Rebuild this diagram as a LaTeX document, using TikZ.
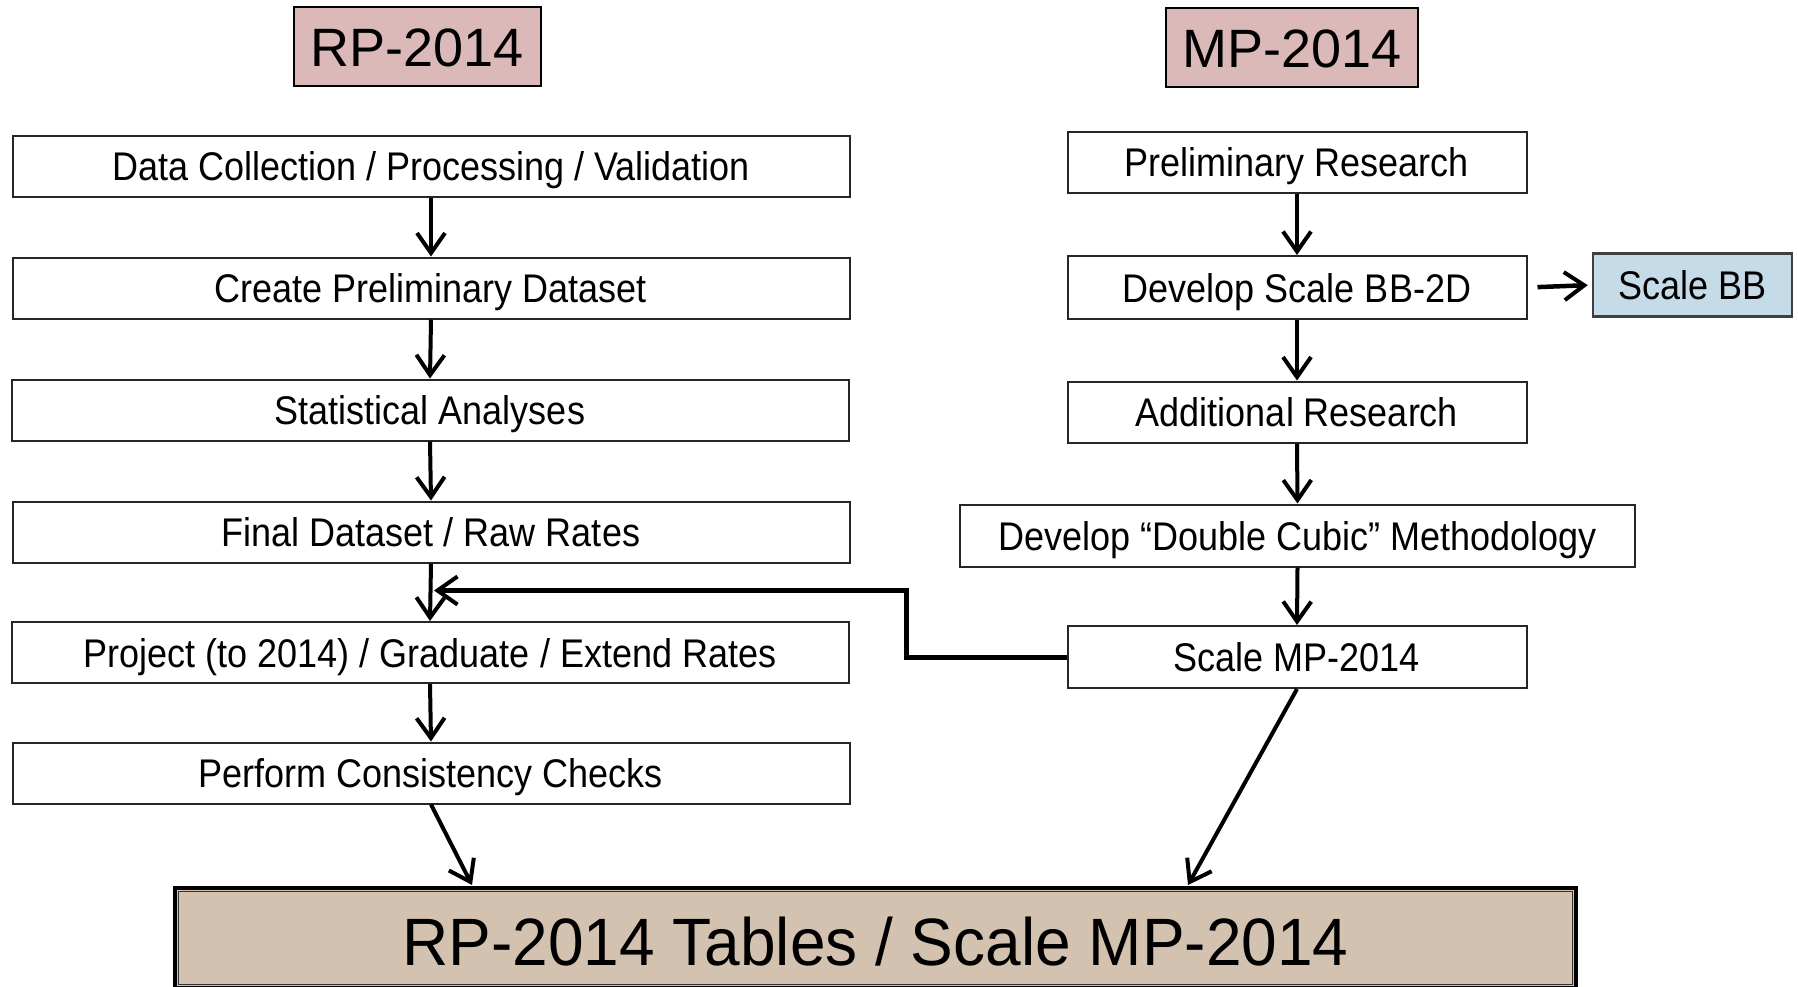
\documentclass[tikz,border=0pt]{standalone}
\usepackage{fontspec}
\setmainfont{Liberation Sans}
\newfontfamily\boxfont{Liberation Sans}[FakeStretch=0.9]
\newfontfamily\bigfont{Liberation Sans}[FakeStretch=0.955]
\usetikzlibrary{arrows.meta,calc}
\definecolor{hdrfill}{RGB}{219,185,184}
\definecolor{bbfill}{RGB}{198,219,232}
\definecolor{finfill}{RGB}{211,194,176}
\tikzset{
  stepbox/.style={draw=black!85, line width=2pt, fill=white, inner sep=0pt,
    minimum height=61pt, text height=29pt, text depth=0pt,
    font=\boxfont\fontsize{40}{48}\selectfont},
  lbox/.style={stepbox, minimum width=837pt},
  rbox/.style={stepbox, minimum width=459pt},
  hdr/.style={draw=black, line width=2pt, fill=hdrfill, inner sep=0pt,
    minimum height=79pt, text height=40pt, text depth=0pt,
    font=\fontsize{54}{60}\selectfont},
  flow/.style={line width=4pt, -{Straight Barb[length=20pt,width=28pt,line width=4pt]}},
}
\begin{document}
\begin{tikzpicture}[x=1pt,y=-1pt]
\useasboundingbox (0,0) rectangle (1798,986);
\fill[white] (0,0) rectangle (1798,986);

% headers
\node[hdr, minimum width=247pt] (rp) at (417,46.5) {RP-2014};
\node[hdr, minimum width=252pt] (mp) at (1292,47.5) {MP-2014};

% left column
\node[lbox] (l1) at (431,166) {Data Collection / Processing / Validation};
\node[lbox] (l2) at (431,288) {Create Preliminary Dataset};
\node[lbox] (l3) at (430,410) {Statistical Analyses};
\node[lbox] (l4) at (431,532) {Final Dataset / Raw Rates};
\node[lbox] (l5) at (430,652.5) {Project (to 2014) / Graduate / Extend Rates};
\node[lbox] (l6) at (431,773) {Perform Consistency Checks};

% right column
\node[rbox] (r1) at (1297,162) {Preliminary Research};
\node[rbox, minimum height=63pt] (r2) at (1297,287.5) {Develop Scale BB-2D};
\node[rbox] (r3) at (1297,412) {Additional Research};
\node[stepbox, minimum width=675pt, minimum height=62pt] (r4) at (1297.5,535.5) {Develop “Double Cubic” Methodology};
\node[rbox, minimum height=62pt] (r5) at (1297,657) {Scale MP-2014};
\node[stepbox, draw=black!75, line width=2.5pt, fill=bbfill, minimum width=199pt, minimum height=63pt] (bb) at (1692.5,285) {Scale BB};

% final box
\node[draw=black, line width=4pt, fill=finfill, inner sep=0pt,
      minimum width=1401pt, minimum height=100pt, text height=54pt, text depth=0pt,
      font=\bigfont\fontsize{67}{72}\selectfont] (fin) at (875.5,938) {RP-2014 Tables / Scale MP-2014};
\draw[black!80, line width=1.5pt] ($(fin.north west)+(5.5,5.5)$) rectangle ($(fin.south east)+(-5.5,-5.5)$);

\coordinate (elbow) at (906,590.5);
\coordinate (join) at (434,590.5);
\coordinate (fin1) at (472,885);
\coordinate (fin2) at (1188,885);

% left arrows
\draw[flow] (l1.south) -- (l2.north);
\draw[flow] (l2.south) -- (l3.north);
\draw[flow] (l3.south) -- (l4.north);
\draw[flow] (l4.south) -- (l5.north);
\draw[flow] (l5.south) -- (l6.north);
\draw[flow] (l6.south) -- (fin1);

% right arrows
\draw[flow] (r1.south) -- (r2.north);
\draw[flow] (r2.south) -- (r3.north);
\draw[flow] (r3.south) -- (r4.north);
\draw[flow] (r4.south) -- (r5.north);
\draw[flow] (r5.south) -- (fin2);
\draw[flow, line width=4.5pt, shorten <=10pt, shorten >=4pt] (r2.east) -- (bb.west);

% elbow connector
\draw[flow, line width=5pt] (r5.west) -| (elbow) -- (join);
\end{tikzpicture}
\end{document}
